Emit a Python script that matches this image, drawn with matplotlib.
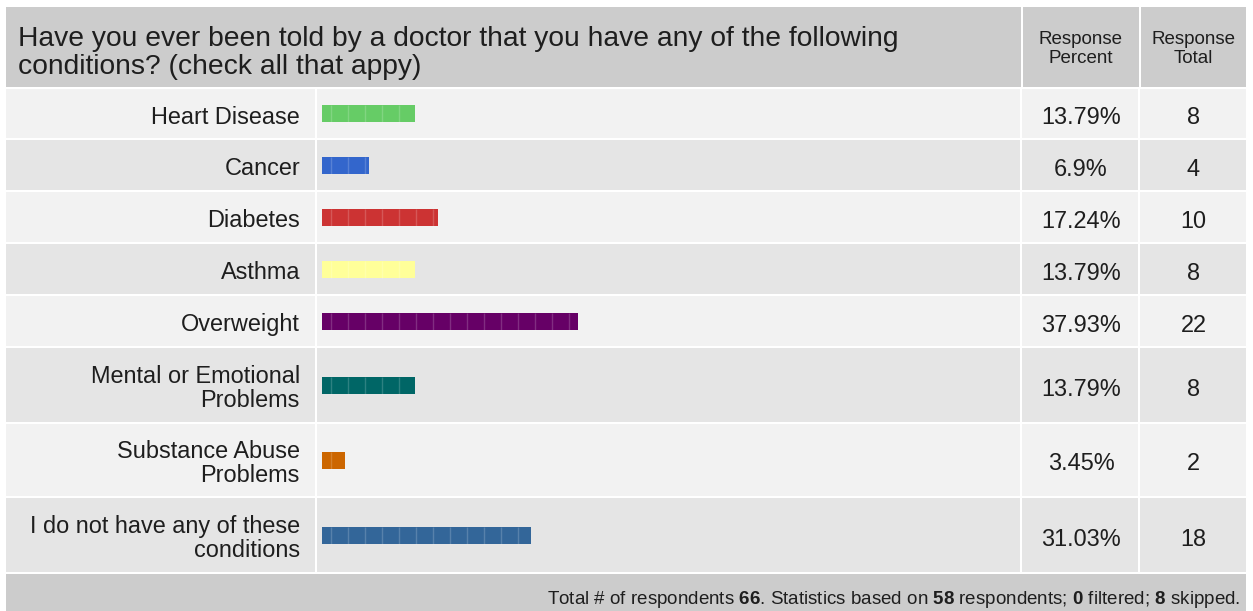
import matplotlib
matplotlib.use("Agg")
import matplotlib.pyplot as plt
from matplotlib.patches import Rectangle

plt.rcParams['font.family'] = ['Liberation Sans', 'DejaVu Sans']
plt.rcParams['mathtext.fontset'] = 'custom'
plt.rcParams['mathtext.bf'] = 'Liberation Sans:bold'
plt.rcParams['mathtext.rm'] = 'Liberation Sans'

# ---- data ----
title = "Have you ever been told by a doctor that you have any of the following\nconditions? (check all that appy)"
categories = ["Heart Disease", "Cancer", "Diabetes", "Asthma", "Overweight",
              "Mental or Emotional\nProblems", "Substance Abuse\nProblems",
              "I do not have any of these\nconditions"]
percents = [13.79, 6.9, 17.24, 13.79, 37.93, 13.79, 3.45, 31.03]
percent_labels = ["13.79%", "6.9%", "17.24%", "13.79%", "37.93%", "13.79%", "3.45%", "31.03%"]
totals = [8, 4, 10, 8, 22, 8, 2, 18]
bar_colors = ["#66cc66", "#3366cc", "#cc3333", "#ffff99", "#660066", "#006666", "#cc6600", "#336699"]
col_headers = ["Response\nPercent", "Response\nTotal"]
total_respondents = 66
based_on = 58
filtered = 0
skipped = 8

# ---- layout (pixels) ----
W, H = 1253, 611
fig = plt.figure(figsize=(W / 100, H / 100), dpi=100)
ax = fig.add_axes([0, 0, 1, 1])
ax.set_xlim(0, W)
ax.set_ylim(H, 0)
ax.axis('off')

L, R = 6, 1246
col1, col2 = 1021, 1139   # separators
lab_sep = 316
hdr_top, hdr_bot = 7, 87
row_tops = [89, 140, 192, 244, 296, 348, 424, 498]
row_bots = [138, 190, 242, 294, 346, 422, 496, 572]
foot_top = 574
txt_col = "#1e1e1e"

ax.add_patch(Rectangle((L, hdr_top), R - L, hdr_bot - hdr_top, color="#cccccc", lw=0))
for x in (col1, col2):
    ax.add_patch(Rectangle((x, hdr_top), 2, hdr_bot - hdr_top, color="white", lw=0))
ax.text(18, 53, title, ha='left', va='center', fontsize=20.3, color=txt_col, linespacing=1.1)
ax.text((col1 + col2) / 2 + 1, 49, col_headers[0], ha='center', va='center', fontsize=13.5,
        color=txt_col, linespacing=1.08)
ax.text((col2 + R) / 2 + 1, 49, col_headers[1], ha='center', va='center', fontsize=13.5,
        color=txt_col, linespacing=1.08)

centers = []
for i, (t, b) in enumerate(zip(row_tops, row_bots)):
    c = "#f2f2f2" if i % 2 == 0 else "#e5e5e5"
    ax.add_patch(Rectangle((L, t), R - L, b - t, color=c, lw=0))
    for x in (lab_sep, col1, col2):
        ax.add_patch(Rectangle((x - 1, t), 2, b - t, color="white", lw=0))
    centers.append((t + b) / 2)

ax.add_patch(Rectangle((L, foot_top), R - L, H - foot_top + 5, color="#cccccc", lw=0))

bar_left = 322
scale = 6.75
widths = [p * scale for p in percents]
ax.barh(centers, widths, left=bar_left, height=17, color=bar_colors, lw=0)
for cy, w in zip(centers, widths):
    xs = []
    x = bar_left + 9
    while x < bar_left + w - 2:
        xs.append(x)
        x += 17
    ax.vlines(xs, cy - 8.5, cy + 8.5, colors="white", alpha=0.18, lw=1)

for cy, lab, pl, tot in zip(centers, categories, percent_labels, totals):
    ax.text(300, cy + 3.5, lab, ha='right', va='center', fontsize=16.9, color=txt_col, linespacing=1.05)
    ax.text((col1 + col2) / 2 + 1, cy + 4, pl, ha='center', va='center', fontsize=16.9, color=txt_col)
    ax.text((col2 + R) / 2 + 1, cy + 4, str(tot), ha='center', va='center', fontsize=16.9, color=txt_col)

footer = (f"Total # of respondents $\\mathbf{{{total_respondents}}}$. Statistics based on "
          f"$\\mathbf{{{based_on}}}$ respondents; $\\mathbf{{{filtered}}}$ filtered; "
          f"$\\mathbf{{{skipped}}}$ skipped.")
ax.text(1240, 599, footer, ha='right', va='center', fontsize=13.5, color=txt_col)

fig.savefig("out.png", dpi=100)
